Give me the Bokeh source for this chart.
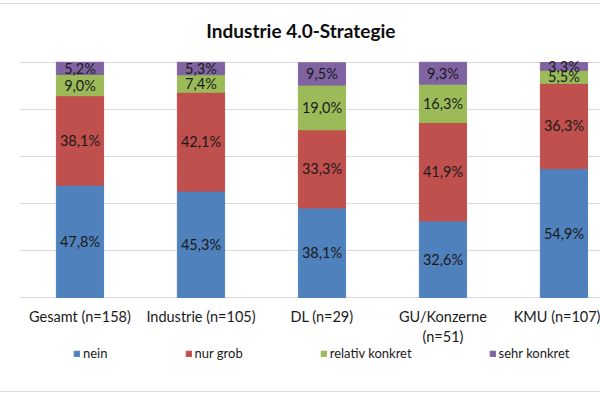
from bokeh.plotting import figure
from bokeh.models import ColumnDataSource, FixedTicker, Range1d, PrintfTickFormatter, Label
from bokeh.core.properties import value
from bokeh.embed import file_html
from bokeh.resources import INLINE

title_text = "Industrie 4.0-Strategie"
categories = ["Gesamt (n=158)", "Industrie (n=105)", "DL (n=29)", "GU/Konzerne\n(n=51)", "KMU (n=107)"]
series = ["nein", "nur grob", "relativ konkret", "sehr konkret"]
nein = [47.8, 45.3, 38.1, 32.6, 54.9]
nur_grob = [38.1, 42.1, 33.3, 41.9, 36.3]
relativ_konkret = [9.0, 7.4, 19.0, 16.3, 5.5]
sehr_konkret = [5.2, 5.3, 9.5, 9.3, 3.3]
y_ticks = [0, 20, 40, 60, 80, 100]
colors = ["#4F81BD", "#C0504D", "#9BBB59", "#8064A2"]

FONT = "Lato"
xs = list(range(len(categories)))
keys = ["s0", "s1", "s2", "s3"]
values = [nein, nur_grob, relativ_konkret, sehr_konkret]
data = {"x": xs}
for k, v in zip(keys, values):
    data[k] = v
source = ColumnDataSource(data)

# label positions: middle of each stacked segment
lx, ly, lt = [], [], []
for i in xs:
    base = 0.0
    for v in values:
        val = v[i]
        lx.append(i)
        ly.append(base + val / 2.0)
        lt.append(f"{val:.1f}".replace(".", ",") + "%")
        base += val
lsrc = ColumnDataSource(dict(x=lx, y=ly, t=lt))

# the frame covers the whole chart area (title, labels and legend live inside it)
p = figure(width=600, height=389, output_backend="svg", toolbar_location=None,
           x_range=Range1d(-0.657, 4.302), y_range=Range1d(-35.3, 124.7),
           min_border_left=0, min_border_right=0, min_border_top=0, min_border_bottom=13)
p.styles = {"border-top": "1px solid #d9d9d9", "border-bottom": "1px solid #d9d9d9",
            "margin-top": "3px"}
p.background_fill_color = "white"
p.border_fill_color = "white"
p.outline_line_color = None
p.xgrid.visible = False
p.ygrid.visible = False

# horizontal gridlines across the plot area
p.segment(x0=[-0.5] * len(y_ticks), x1=[len(categories) - 0.5] * len(y_ticks),
          y0=y_ticks, y1=y_ticks, line_color="#d9d9d9", line_width=1)

p.vbar_stack(keys, x="x", width=0.39, color=colors, source=source, legend_label=series)
p.text(x="x", y="y", text="t", source=lsrc, text_align="center", text_baseline="middle",
       text_font=value(FONT), text_font_size="14.5px", text_color="#1a1a1a")

p.add_layout(Label(x=1.826, y=113.8, text=title_text, text_align="center",
                   text_baseline="middle", text_font=FONT, text_font_style="bold",
                   text_font_size="19px", text_color="#0d0d0d"))

p.yaxis.fixed_location = -0.5
p.yaxis.ticker = FixedTicker(ticks=y_ticks)
p.yaxis.formatter = PrintfTickFormatter(format="%d%%")
p.yaxis.axis_line_color = None
p.yaxis.major_tick_line_color = None
p.yaxis.minor_tick_line_color = None
p.yaxis.major_label_standoff = 14
p.yaxis.major_label_text_font = FONT
p.yaxis.major_label_text_font_size = "14.5px"
p.yaxis.major_label_text_color = "#1a1a1a"

p.xaxis.fixed_location = 0
p.xaxis.ticker = FixedTicker(ticks=xs)
p.xaxis.major_label_overrides = {i: c for i, c in zip(xs, categories)}
p.xaxis.axis_line_color = None
p.xaxis.major_tick_line_color = None
p.xaxis.minor_tick_line_color = None
p.xaxis.major_label_standoff = 4
p.xaxis.major_label_text_font = FONT
p.xaxis.major_label_text_font_size = "14.5px"
p.xaxis.major_label_text_color = "#1a1a1a"

lg = p.legend[0]
lg.orientation = "horizontal"
lg.location = (73, 19)
lg.spacing = 77
lg.padding = 0
lg.margin = 0
lg.glyph_width = 7
lg.glyph_height = 7
lg.label_height = 14
lg.label_standoff = 3
lg.border_line_color = None
lg.background_fill_alpha = 0
lg.label_text_font = FONT
lg.label_text_font_size = "13px"
lg.label_text_color = "#1a1a1a"

open("out.html", "w").write(file_html(p, INLINE))
